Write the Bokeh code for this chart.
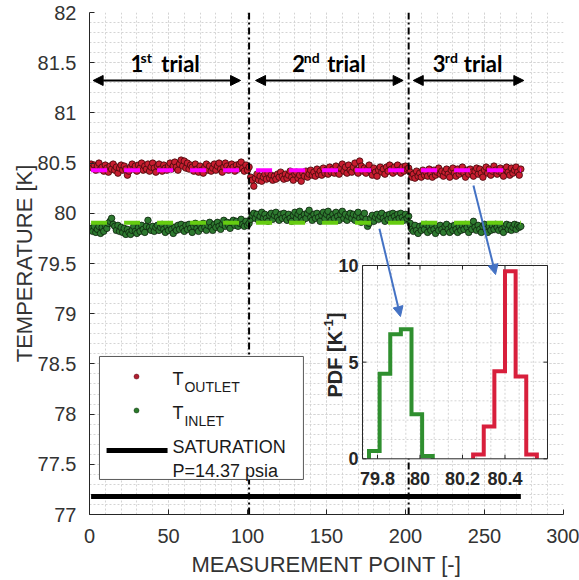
import numpy as np
from bokeh.plotting import figure
from bokeh.models import Range1d, SingleIntervalTicker, Arrow, NormalHead
from bokeh.core.properties import value
from bokeh.embed import file_html
from bokeh.resources import INLINE

# ---------------- data ----------------
outlet_t1 = [80.49, 80.45, 80.48, 80.43, 80.47, 80.50, 80.44, 80.46, 80.42, 80.48,
             80.45, 80.41, 80.47, 80.44, 80.49, 80.43, 80.46, 80.40, 80.45, 80.48,
             80.43, 80.47, 80.44, 80.38, 80.42, 80.46, 80.49, 80.44, 80.47, 80.42,
             80.48, 80.45, 80.50, 80.43, 80.47, 80.44, 80.49, 80.42, 80.46, 80.50,
             80.45, 80.41, 80.47, 80.49, 80.44, 80.42, 80.48, 80.45, 80.43, 80.47,
             80.50, 80.44, 80.47, 80.51, 80.46, 80.43, 80.49, 80.53, 80.47, 80.52,
             80.45, 80.50, 80.44, 80.48, 80.46, 80.42, 80.49, 80.44, 80.41, 80.47,
             80.43, 80.40, 80.46, 80.49, 80.43, 80.47, 80.42, 80.45, 80.49, 80.43,
             80.47, 80.50, 80.44, 80.41, 80.46, 80.50, 80.47, 80.43, 80.45, 80.49,
             80.46, 80.42, 80.48, 80.44, 80.49, 80.51, 80.45, 80.42, 80.48, 80.43, 80.46]
outlet_t2 = [80.36, 80.33, 80.27, 80.35, 80.39, 80.33, 80.37, 80.32, 80.36, 80.39,
             80.34, 80.40, 80.35, 80.38, 80.33, 80.37, 80.34, 80.39, 80.36, 80.41,
             80.37, 80.34, 80.39, 80.35, 80.38, 80.42, 80.36, 80.33, 80.39, 80.41,
             80.35, 80.38, 80.32, 80.40, 80.37, 80.42, 80.36, 80.39, 80.43, 80.38,
             80.41, 80.37, 80.44, 80.39, 80.42, 80.38, 80.45, 80.40, 80.43, 80.39,
             80.46, 80.41, 80.44, 80.40, 80.47, 80.42, 80.39, 80.45, 80.49, 80.42,
             80.46, 80.40, 80.48, 80.43, 80.41, 80.46, 80.50, 80.43, 80.40, 80.52,
             80.47, 80.42, 80.45, 80.40, 80.44, 80.48, 80.42, 80.38, 80.45, 80.41,
             80.37, 80.43, 80.46, 80.41, 80.44, 80.39, 80.46, 80.42, 80.48, 80.44,
             80.40, 80.46, 80.42, 80.48, 80.43, 80.40, 80.46, 80.42, 80.47, 80.44, 80.45]
outlet_t3 = [80.41, 80.36, 80.39, 80.35, 80.42, 80.37, 80.40, 80.36, 80.43, 80.38,
             80.41, 80.37, 80.44, 80.39, 80.36, 80.43, 80.38, 80.41, 80.45, 80.39,
             80.42, 80.37, 80.41, 80.44, 80.39, 80.36, 80.43, 80.45, 80.40, 80.37,
             80.44, 80.39, 80.42, 80.46, 80.40, 80.36, 80.43, 80.39, 80.44, 80.41,
             80.37, 80.42, 80.45, 80.39, 80.44, 80.40, 80.36, 80.43, 80.46, 80.40,
             80.44, 80.38, 80.42, 80.47, 80.43, 80.39, 80.42, 80.45, 80.40, 80.37,
             80.44, 80.46, 80.41, 80.38, 80.45, 80.40, 80.43, 80.46, 80.41, 80.38, 80.44]

inlet_t1 = [79.85, 79.82, 79.87, 79.81, 79.84, 79.87, 79.80, 79.86, 79.82, 79.88,
            79.85, 79.90, 79.92, 79.95, 79.89, 79.87, 79.83, 79.88, 79.82, 79.86,
            79.81, 79.85, 79.79, 79.84, 79.81, 79.79, 79.83, 79.87, 79.82, 79.80,
            79.86, 79.82, 79.88, 79.84, 79.81, 79.87, 79.93, 79.86, 79.83, 79.87,
            79.82, 79.86, 79.88, 79.83, 79.86, 79.89, 79.84, 79.81, 79.87, 79.83,
            79.88, 79.84, 79.80, 79.86, 79.83, 79.88, 79.84, 79.89, 79.85, 79.82,
            79.88, 79.84, 79.89, 79.85, 79.81, 79.87, 79.90, 79.85, 79.82, 79.88,
            79.85, 79.90, 79.86, 79.83, 79.88, 79.91, 79.86, 79.83, 79.89, 79.86,
            79.91, 79.87, 79.84, 79.89, 79.93, 79.87, 79.91, 79.88, 79.85, 79.91,
            79.93, 79.88, 79.92, 79.87, 79.90, 79.94, 79.89, 79.87, 79.92, 79.88, 79.90]
inlet_t2 = [79.94, 79.98, 80.00, 79.95, 79.99, 79.93, 79.97, 80.01, 79.95, 79.99,
            79.95, 79.92, 79.98, 80.00, 79.94, 79.98, 80.01, 79.96, 79.93, 79.99,
            79.95, 80.00, 79.96, 79.93, 79.99, 79.95, 79.92, 79.98, 80.01, 79.95,
            79.99, 80.02, 79.96, 79.93, 79.99, 79.95, 80.00, 80.03, 79.96, 79.93,
            79.99, 79.95, 80.00, 79.96, 79.92, 79.98, 80.01, 79.95, 79.99, 80.02,
            79.96, 79.93, 79.99, 79.95, 80.01, 79.97, 79.93, 79.99, 80.02, 79.95,
            79.99, 79.93, 79.97, 80.00, 79.95, 79.99, 79.93, 79.98, 80.01, 79.95,
            79.91, 79.97, 80.00, 79.94, 79.87, 79.90, 79.95, 79.98, 79.92, 79.96,
            79.99, 79.94, 79.97, 80.00, 79.95, 79.92, 79.98, 79.94, 79.99, 79.95,
            80.00, 79.97, 79.93, 79.99, 79.95, 80.00, 79.96, 79.93, 79.99, 79.95, 79.97]
inlet_t3 = [79.90, 79.84, 79.82, 79.88, 79.83, 79.80, 79.87, 79.83, 79.88, 79.84,
            79.89, 79.81, 79.87, 79.83, 79.88, 79.84, 79.80, 79.87, 79.83, 79.88,
            79.84, 79.81, 79.87, 79.89, 79.84, 79.81, 79.87, 79.83, 79.88, 79.84,
            79.81, 79.87, 79.83, 79.88, 79.84, 79.89, 79.86, 79.81, 79.88, 79.84,
            79.92, 79.86, 79.83, 79.88, 79.84, 79.81, 79.87, 79.89, 79.84, 79.81,
            79.87, 79.83, 79.88, 79.84, 79.89, 79.86, 79.83, 79.88, 79.84, 79.81,
            79.87, 79.89, 79.84, 79.88, 79.83, 79.86, 79.89, 79.84, 79.88, 79.86, 79.87]

outlet_mean = 80.43
inlet_mean = 79.905
saturation_T = 77.18

green_edges = [79.76, 79.81, 79.86, 79.91, 79.96, 80.01, 80.06]
green_pdf = [0.4, 4.4, 6.45, 6.7, 2.3, 0.15]
red_edges = [80.25, 80.30, 80.35, 80.40, 80.45, 80.50, 80.55]
red_pdf = [0.22, 1.67, 4.53, 9.7, 4.26, 0.22]

inset_xticks = [79.8, 80.0, 80.2, 80.4]
inset_xlabels = ["79.8", "80", "80.2", "80.4"]
inset_yticks = [0, 5, 10]
inset_ylabels = ["0", "5", "10"]

# ---------------- derived ----------------
outlet = outlet_t1 + outlet_t2 + outlet_t3
inlet = inlet_t1 + inlet_t2 + inlet_t3
n_pts = len(outlet)
xs_pts = np.arange(1, n_pts + 1)
b1 = len(outlet_t1)
b2 = len(outlet_t1) + len(outlet_t2)

def steps(edges, pdf):
    sx, sy = [edges[0]], [0.0]
    for i, h in enumerate(pdf):
        sx += [edges[i], edges[i + 1]]
        sy += [h, h]
    sx.append(edges[-1]); sy.append(0.0)
    return sx, sy

AX = "#262626"
FONT = "Liberation Sans"

p = figure(frame_width=474, frame_height=502, x_range=Range1d(0, 300), y_range=Range1d(77, 82),
           output_backend="svg", toolbar_location=None,
           min_border_left=89, min_border_right=16, min_border_top=12, min_border_bottom=66)
p.outline_line_color = None
p.background_fill_color = "white"
p.border_fill_color = "white"

p.xaxis.ticker = SingleIntervalTicker(interval=50, num_minor_ticks=5)
p.yaxis.ticker = SingleIntervalTicker(interval=0.5, num_minor_ticks=5)
for ax in (p.xaxis[0], p.yaxis[0]):
    ax.axis_line_color = AX
    ax.major_tick_line_color = AX
    ax.major_tick_in = 5
    ax.major_tick_out = 0
    ax.minor_tick_line_color = None
    ax.major_label_text_font = FONT
    ax.major_label_text_font_size = "20px"
    ax.major_label_text_color = "#333333"
    ax.axis_label_text_font = FONT
    ax.axis_label_text_font_size = "22px"
    ax.axis_label_text_font_style = "normal"
    ax.axis_label_text_color = "#333333"
p.xaxis.axis_label = "MEASUREMENT POINT [-]"
p.yaxis.axis_label = "TEMPERATURE [K]"
p.xaxis.major_label_standoff = 10
p.xaxis.axis_label_standoff = 6
p.yaxis.major_label_standoff = 9
p.yaxis.axis_label_standoff = -2

for g in (p.xgrid[0], p.ygrid[0]):
    g.grid_line_color = "#d4d4d4"
    g.grid_line_dash = "2 2"
    g.minor_grid_line_color = "#d4d4d4"
    g.minor_grid_line_dash = "2 2"

# data points
p.scatter(xs_pts, outlet, size=6.5, fill_color="#c81e30", line_color="#3d0a0a", line_width=0.8)
p.scatter(xs_pts, inlet, size=6.5, fill_color="#2e7a30", line_color="#0c220c", line_width=0.8)
# mean lines
p.line([1, n_pts], [outlet_mean, outlet_mean], line_color="#ff00ff", line_width=4, line_dash="16 17")
p.line([1, n_pts], [inlet_mean, inlet_mean], line_color="#66cc11", line_width=4, line_dash="16 17")
# saturation
p.line([1, n_pts], [saturation_T, saturation_T], line_color="black", line_width=5)
# trial dividers
for b in (b1, b2):
    p.line([b, b], [77, 82], line_color="black", line_width=2, line_dash="7 3 2 3")

# trial arrows and labels
arr_y = 81.323
for xa, xb in ((2.3, 95.6), (105.1, 198.5), (204.9, 274.9)):
    p.add_layout(Arrow(start=NormalHead(size=10, fill_color="black", line_color="black"),
                       end=NormalHead(size=10, fill_color="black", line_color="black"),
                       x_start=xa, y_start=arr_y, x_end=xb, y_end=arr_y,
                       line_color="black", line_width=2))
tf = value("Lato")
p.text(x=[25.9, 128.3, 217.3], y=[81.49] * 3, text=["1", "2", "3"], text_font=tf,
       text_font_style="bold", text_font_size="22px", text_align="left", text_baseline="alphabetic")
p.text(x=[32.3, 135.6, 224.9], y=[81.555] * 3, text=["st", "nd", "rd"], text_font=tf,
       text_font_style="bold", text_font_size="14px", text_align="left", text_baseline="alphabetic")
p.text(x=[45.4, 150.4, 236.9], y=[81.49] * 3, text=["trial"] * 3, text_font=tf,
       text_font_style="bold", text_font_size="22px", text_align="left", text_baseline="alphabetic")

# legend box (manual, to allow subscripts)
p.quad(left=6.3, right=135.4, bottom=77.349, top=78.574, fill_color="white", line_color="#595959", line_width=1)
p.scatter([29.75], [78.374], size=5, fill_color="#b01e30", line_color="#5a1018", line_width=0.5)
p.scatter([29.75], [78.036], size=5, fill_color="#2a7a2a", line_color="#103010", line_width=0.5)
p.line([10.8, 49.4], [77.637, 77.637], line_color="black", line_width=5)
lf = value(FONT)
p.text(x=[52.5, 52.5], y=[78.345, 78.009], text=["T", "T"], text_font=lf, text_font_size="18px",
       text_align="left", text_baseline="alphabetic", text_color="#1a1a1a")
p.text(x=[60.1, 60.1], y=[78.265, 77.929], text=["OUTLET", "INLET"], text_font=lf, text_font_size="14px",
       text_align="left", text_baseline="alphabetic", text_color="#1a1a1a")
p.text(x=[52.5, 52.5], y=[77.677, 77.431], text=["SATURATION", "P=14.37 psia"], text_font=lf,
       text_font_size="18px", text_align="left", text_baseline="alphabetic", text_color="#1a1a1a")

# ---------------- inset (own scales via extra ranges) ----------------
p.extra_x_ranges = {"ix": Range1d(78.4447, 80.6753)}
p.extra_y_ranges = {"iy": Range1d(-2.8815, 23.089)}
IX0, IX1, IY0, IY1 = 79.7294, 80.6, 0.0, 10.0
kw = dict(x_range_name="ix", y_range_name="iy")
p.quad(left=IX0, right=IX1, bottom=IY0, top=IY1, fill_color="white", line_color=None, **kw)
gx = [79.8 + k * 0.2 / 3 for k in range(-1, 12)]
gx = [g for g in gx if IX0 < g < IX1 - 1e-6]
p.multi_line([[g, g] for g in gx], [[IY0, IY1]] * len(gx), line_color="#d4d4d4", line_dash="2 2", **kw)
gy = list(range(1, 10))
p.multi_line([[IX0, IX1]] * len(gy), [[g, g] for g in gy], line_color="#d4d4d4", line_dash="2 2", **kw)
gsx, gsy = steps(green_edges, green_pdf)
p.line(gsx, gsy, line_color="#2f8f2f", line_width=4, line_join="miter", **kw)
rsx, rsy = steps(red_edges, red_pdf)
p.line(rsx, rsy, line_color="#d81f3c", line_width=4, line_join="miter", **kw)
p.quad(left=IX0, right=IX1, bottom=IY0, top=IY1, fill_color=None, line_color=AX, line_width=1, **kw)
tdx, tdy = 4 / 212.5, 4 / 19.33
p.multi_line([[t, t] for t in inset_xticks] * 2,
             [[IY0, IY0 + tdy]] * len(inset_xticks) + [[IY1, IY1 - tdy]] * len(inset_xticks),
             line_color=AX, **kw)
p.multi_line([[IX0, IX0 + tdx]] * len(inset_yticks) + [[IX1, IX1 - tdx]] * len(inset_yticks),
             [[t, t] for t in inset_yticks] * 2, line_color=AX, **kw)
p.text(x=inset_xticks, y=[-1.02] * len(inset_xticks), text=inset_xlabels, text_font=lf,
       text_font_style="bold", text_font_size="18px", text_align="center", text_baseline="middle",
       text_color=AX, **kw)
p.text(x=[79.711] * len(inset_yticks), y=inset_yticks, text=inset_ylabels, text_font=lf,
       text_font_style="bold", text_font_size="18px", text_align="right", text_baseline="middle",
       text_color=AX, **kw)
# inset y label: PDF [K^-1]
p.text(x=[79.602], y=[3.17], text=["PDF [K"], angle=np.pi / 2, text_font=lf, text_font_style="bold",
       text_font_size="20px", text_align="left", text_baseline="alphabetic", text_color=AX, **kw)
p.text(x=[79.570], y=[6.62], text=["-1"], angle=np.pi / 2, text_font=lf, text_font_style="bold",
       text_font_size="13px", text_align="left", text_baseline="alphabetic", text_color=AX, **kw)
p.text(x=[79.602], y=[7.22], text=["]"], angle=np.pi / 2, text_font=lf, text_font_style="bold",
       text_font_size="20px", text_align="left", text_baseline="alphabetic", text_color=AX, **kw)

# blue pointer arrows (main coordinates)
BLUE = "#4472c4"
for (xa, ya, xb, yb) in ((243.0, 80.277, 257.0, 79.390), (183.5, 79.846, 196.8, 78.972)):
    p.add_layout(Arrow(end=NormalHead(size=10, fill_color=BLUE, line_color=BLUE),
                       x_start=xa, y_start=ya, x_end=xb, y_end=yb, line_color=BLUE, line_width=2))

open("out.html", "w").write(file_html(p, INLINE))
